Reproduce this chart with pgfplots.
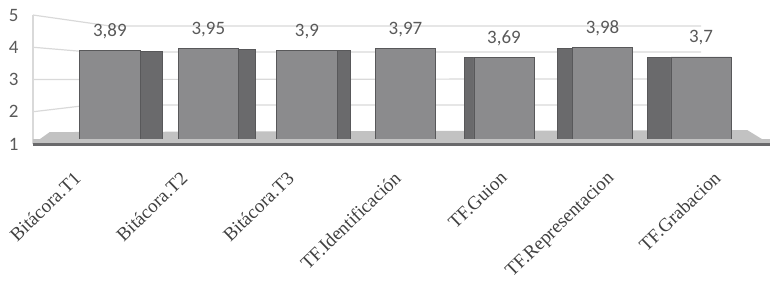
\documentclass[border=0pt]{standalone}
\usepackage{fontspec}
\setmainfont{Liberation Serif}
\newfontfamily\calib{Carlito}
\usepackage{pgfplots}
\pgfplotsset{compat=1.18}
\usetikzlibrary{calc}
\definecolor{front}{HTML}{8B8B8D}
\definecolor{side}{HTML}{6A6A6C}
\definecolor{edge}{HTML}{58585A}
\definecolor{gridc}{HTML}{D9D9D9}
\definecolor{floorc}{HTML}{C2C2C2}
\definecolor{txt}{HTML}{595959}
\definecolor{xtxt}{HTML}{404040}
\tikzset{xlab/.style={font=\fontsize{19}{21}\selectfont, text=xtxt, rotate=44, anchor=north east, inner sep=0pt}}
\begin{document}
\begin{tikzpicture}
\begin{axis}[name=ax, scale only axis, width=737bp, height=129bp,
  xmin=-0.78, xmax=6.70, ymin=1, ymax=5,
  clip=false,
  axis x line*=bottom, axis y line*=left,
  x axis line style={draw=none},
  y axis line style={draw=gridc, line width=1.5bp},
  ytick={1,2,3,4,5},
  xtick=\empty,
  major tick length=0pt,
  /pgf/number format/assume math mode=true,
  /pgf/number format/use comma,
  yticklabel={\calib\pgfmathprintnumber[assume math mode=true]{\tick}},
  yticklabel style={font=\calib\fontsize{19}{22}\selectfont, text=txt, xshift=-11bp},
]
% back wall grid lines (perspective)
\draw[gridc, line width=1.2bp] (axis cs:-0.78,5) -- (axis cs:0,4.66) -- (axis cs:6.0,4.66);
\draw[gridc, line width=1.2bp] (axis cs:-0.78,4) -- (axis cs:-0.2,3.85) -- (axis cs:6.0,3.85);
\draw[gridc, line width=1.2bp] (axis cs:-0.78,3) -- (axis cs:6.0,3.02);
\draw[gridc, line width=1.2bp] (axis cs:-0.78,2) -- (axis cs:-0.2,2.21) -- (axis cs:6.0,2.21);
% floor
\fill[floorc] (axis cs:-0.78,1) -- (axis cs:-0.61,1.37) -- (axis cs:6.47,1.43) -- (axis cs:6.70,1) -- cycle;
% side faces
\addplot[ybar, bar width=0.23, bar shift=0.42, fill=side, draw=edge] coordinates {(0,3.89)};
\addplot[ybar, bar width=0.17, bar shift=0.39, fill=side, draw=edge] coordinates {(1,3.95)};
\addplot[ybar, bar width=0.13, bar shift=0.37, fill=side, draw=edge] coordinates {(2,3.90)};
\addplot[ybar, bar width=0.10, bar shift=-0.355, fill=side, draw=edge] coordinates {(4,3.69)};
\addplot[ybar, bar width=0.15, bar shift=-0.38, fill=side, draw=edge] coordinates {(5,3.98)};
\addplot[ybar, bar width=0.24, bar shift=-0.425, fill=side, draw=edge] coordinates {(6,3.70)};
% front faces
\addplot[ybar, bar width=0.61, bar shift=0, fill=front, draw=edge, line width=0.8bp,
  nodes near coords,
  nodes near coords style={font=\calib\fontsize{19}{22}\selectfont, text=txt, anchor=base, yshift=14bp}]
  coordinates {(0,3.89) (1,3.95) (2,3.90) (3,3.97) (4,3.69) (5,3.98) (6,3.70)};
% front floor strip and base line
\fill[floorc] (axis cs:-0.78,1) rectangle (axis cs:6.70,1.17);
\draw[draw=edge!90, line width=3bp] (axis cs:-0.78,1) -- (axis cs:6.70,1);
\coordinate (l1) at (axis cs:-0.376,1);
\coordinate (l2) at (axis cs:0.706,1);
\coordinate (l3) at (axis cs:1.788,1);
\coordinate (l4) at (axis cs:2.870,1);
\coordinate (l5) at (axis cs:3.952,1);
\coordinate (l6) at (axis cs:5.034,1);
\coordinate (l7) at (axis cs:6.116,1);
\end{axis}
% category labels
\node[xlab] at ($(l1)+(0,-26bp)$) {Bitácora.T1};
\node[xlab] at ($(l2)+(0,-26bp)$) {Bitácora.T2};
\node[xlab] at ($(l3)+(0,-26bp)$) {Bitácora.T3};
\node[xlab] at ($(l4)+(0,-26bp)$) {TF.Identificación};
\node[xlab] at ($(l5)+(0,-26bp)$) {TF.Guion};
\node[xlab] at ($(l6)+(0,-26bp)$) {TF.Representacion};
\node[xlab] at ($(l7)+(0,-26bp)$) {TF.Grabacion};
\pgfresetboundingbox
\path[use as bounding box] ($(ax.south west)+(-33bp,-139bp)$) rectangle ($(ax.north east)+(0,15bp)$);
\end{tikzpicture}
\end{document}
